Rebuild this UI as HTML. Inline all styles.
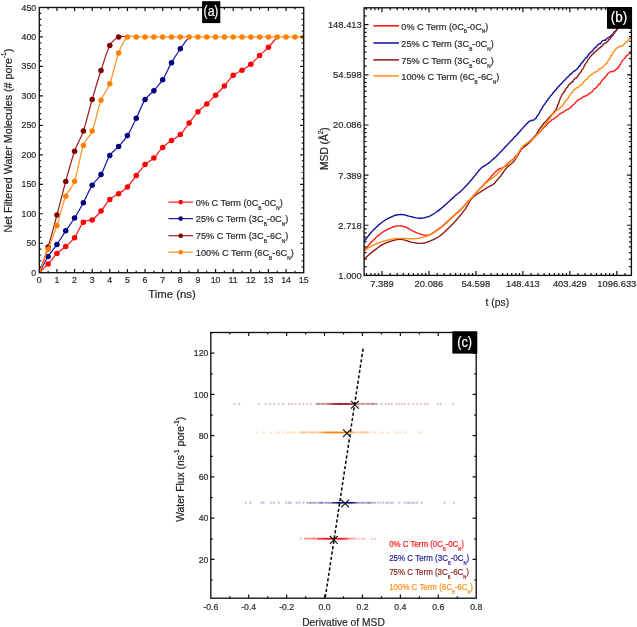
<!DOCTYPE html>
<html><head><meta charset="utf-8"><style>
html,body{margin:0;padding:0;background:#fff;}
body{width:637px;height:627px;overflow:hidden;font-family:"Liberation Sans", sans-serif;}
svg{display:block;will-change:transform;filter:blur(0.3px);}
</style></head><body>
<svg width="637" height="627" viewBox="0 0 637 627" font-family='"Liberation Sans", sans-serif'><defs><clipPath id="ca"><rect x="39.3" y="7.5" width="264.4" height="265.2"/></clipPath>
<clipPath id="cb"><rect x="364.1" y="7.8" width="267.3" height="267.6"/></clipPath>
<clipPath id="cc"><rect x="210.8" y="332.5" width="265.4" height="265.7"/></clipPath></defs>
<g clip-path="url(#ca)">
<path d="M39.3,272.7 C40.77,271.24 45.18,267.1 48.11,263.92 C51.05,260.74 53.99,256.52 56.93,253.61 C59.86,250.69 62.8,249.07 65.74,246.42 C68.68,243.76 71.62,241.71 74.55,237.69 C77.49,233.68 80.43,225.28 83.37,222.31 C86.3,219.35 89.24,221.78 92.18,219.9 C95.12,218.01 98.06,214.41 100.99,211 C103.93,207.58 106.87,202.26 109.81,199.39 C112.74,196.51 115.68,195.8 118.62,193.73 C121.56,191.66 124.5,189.98 127.43,186.95 C130.37,183.93 133.31,179.3 136.25,175.58 C139.18,171.86 142.12,167.53 145.06,164.62 C148,161.7 150.94,160.94 153.87,158.07 C156.81,155.21 159.75,150.32 162.69,147.41 C165.62,144.49 168.56,142.71 171.5,140.57 C174.44,138.43 177.38,137.49 180.31,134.56 C183.25,131.63 186.19,126.8 189.13,123.01 C192.06,119.22 195,114.99 197.94,111.81 C200.88,108.63 203.82,106.69 206.75,103.91 C209.69,101.14 212.63,98.12 215.57,95.13 C218.5,92.15 221.44,89.31 224.38,86 C227.32,82.69 230.26,77.91 233.19,75.27 C236.13,72.64 239.07,72.05 242.01,70.21 C244.94,68.36 247.88,66.66 250.82,64.19 C253.76,61.73 256.7,58.24 259.63,55.41 C262.57,52.58 265.51,50.3 268.45,47.22 C271.38,44.15 275.79,38.68 277.26,36.97" fill="none" stroke="#ff1a1a" stroke-width="1.25"/>
<circle cx="39.3" cy="272.7" r="2.75" fill="#ff0000"/>
<circle cx="48.11" cy="263.92" r="2.75" fill="#ff0000"/>
<circle cx="56.93" cy="253.61" r="2.75" fill="#ff0000"/>
<circle cx="65.74" cy="246.42" r="2.75" fill="#ff0000"/>
<circle cx="74.55" cy="237.69" r="2.75" fill="#ff0000"/>
<circle cx="83.37" cy="222.31" r="2.75" fill="#ff0000"/>
<circle cx="92.18" cy="219.9" r="2.75" fill="#ff0000"/>
<circle cx="100.99" cy="211" r="2.75" fill="#ff0000"/>
<circle cx="109.81" cy="199.39" r="2.75" fill="#ff0000"/>
<circle cx="118.62" cy="193.73" r="2.75" fill="#ff0000"/>
<circle cx="127.43" cy="186.95" r="2.75" fill="#ff0000"/>
<circle cx="136.25" cy="175.58" r="2.75" fill="#ff0000"/>
<circle cx="145.06" cy="164.62" r="2.75" fill="#ff0000"/>
<circle cx="153.87" cy="158.07" r="2.75" fill="#ff0000"/>
<circle cx="162.69" cy="147.41" r="2.75" fill="#ff0000"/>
<circle cx="171.5" cy="140.57" r="2.75" fill="#ff0000"/>
<circle cx="180.31" cy="134.56" r="2.75" fill="#ff0000"/>
<circle cx="189.13" cy="123.01" r="2.75" fill="#ff0000"/>
<circle cx="197.94" cy="111.81" r="2.75" fill="#ff0000"/>
<circle cx="206.75" cy="103.91" r="2.75" fill="#ff0000"/>
<circle cx="215.57" cy="95.13" r="2.75" fill="#ff0000"/>
<circle cx="224.38" cy="86" r="2.75" fill="#ff0000"/>
<circle cx="233.19" cy="75.27" r="2.75" fill="#ff0000"/>
<circle cx="242.01" cy="70.21" r="2.75" fill="#ff0000"/>
<circle cx="250.82" cy="64.19" r="2.75" fill="#ff0000"/>
<circle cx="259.63" cy="55.41" r="2.75" fill="#ff0000"/>
<circle cx="268.45" cy="47.22" r="2.75" fill="#ff0000"/>
<path d="M39.3,272.7 C40.77,270 45.18,261.18 48.11,256.49 C51.05,251.81 53.99,248.86 56.93,244.59 C59.86,240.32 62.8,235.29 65.74,230.86 C68.68,226.43 71.62,222.7 74.55,218.01 C77.49,213.31 80.43,208.17 83.37,202.69 C86.3,197.21 89.24,189.81 92.18,185.13 C95.12,180.44 98.06,179.53 100.99,174.58 C103.93,169.63 106.87,160.09 109.81,155.42 C112.74,150.76 115.68,149.88 118.62,146.58 C121.56,143.28 124.5,140.34 127.43,135.62 C130.37,130.91 133.31,124.3 136.25,118.29 C139.18,112.29 142.12,104.21 145.06,99.61 C148,95.02 150.94,94.03 153.87,90.71 C156.81,87.39 159.75,84.37 162.69,79.69 C165.62,75.02 168.56,67.82 171.5,62.66 C174.44,57.5 177.38,53.04 180.31,48.75 C183.25,44.47 187.66,38.93 189.13,36.97" fill="none" stroke="#1a1aa8" stroke-width="1.25"/>
<circle cx="39.3" cy="272.7" r="2.75" fill="#000080"/>
<circle cx="48.11" cy="256.49" r="2.75" fill="#000080"/>
<circle cx="56.93" cy="244.59" r="2.75" fill="#000080"/>
<circle cx="65.74" cy="230.86" r="2.75" fill="#000080"/>
<circle cx="74.55" cy="218.01" r="2.75" fill="#000080"/>
<circle cx="83.37" cy="202.69" r="2.75" fill="#000080"/>
<circle cx="92.18" cy="185.13" r="2.75" fill="#000080"/>
<circle cx="100.99" cy="174.58" r="2.75" fill="#000080"/>
<circle cx="109.81" cy="155.42" r="2.75" fill="#000080"/>
<circle cx="118.62" cy="146.58" r="2.75" fill="#000080"/>
<circle cx="127.43" cy="135.62" r="2.75" fill="#000080"/>
<circle cx="136.25" cy="118.29" r="2.75" fill="#000080"/>
<circle cx="145.06" cy="99.61" r="2.75" fill="#000080"/>
<circle cx="153.87" cy="90.71" r="2.75" fill="#000080"/>
<circle cx="162.69" cy="79.69" r="2.75" fill="#000080"/>
<circle cx="171.5" cy="62.66" r="2.75" fill="#000080"/>
<circle cx="180.31" cy="48.75" r="2.75" fill="#000080"/>
<path d="M39.3,272.7 C40.77,268.42 45.18,256.6 48.11,247.01 C51.05,237.41 53.99,226.05 56.93,215.12 C59.86,204.19 62.8,192.07 65.74,181.41 C68.68,170.76 71.62,159.57 74.55,151.18 C77.49,142.79 80.43,139.71 83.37,131.08 C86.3,122.46 89.24,109.52 92.18,99.44 C95.12,89.35 98.06,79.55 100.99,70.56 C103.93,61.57 106.87,51.11 109.81,45.51 C112.74,39.91 115.68,38.39 118.62,36.97 C121.56,35.54 125.96,36.97 127.43,36.97" fill="none" stroke="#9a1f1f" stroke-width="1.25"/>
<circle cx="39.3" cy="272.7" r="2.75" fill="#800000"/>
<circle cx="48.11" cy="247.01" r="2.75" fill="#800000"/>
<circle cx="56.93" cy="215.12" r="2.75" fill="#800000"/>
<circle cx="65.74" cy="181.41" r="2.75" fill="#800000"/>
<circle cx="74.55" cy="151.18" r="2.75" fill="#800000"/>
<circle cx="83.37" cy="131.08" r="2.75" fill="#800000"/>
<circle cx="92.18" cy="99.44" r="2.75" fill="#800000"/>
<circle cx="100.99" cy="70.56" r="2.75" fill="#800000"/>
<circle cx="109.81" cy="45.51" r="2.75" fill="#800000"/>
<circle cx="118.62" cy="36.97" r="2.75" fill="#800000"/>
<path d="M39.3,272.7 C40.77,268.77 45.18,256.98 48.11,249.13 C51.05,241.27 53.99,234.37 56.93,225.55 C59.86,216.73 62.8,203.57 65.74,196.2 C68.68,188.84 71.62,189.82 74.55,181.35 C77.49,172.89 80.43,153.78 83.37,145.4 C86.3,137.03 89.24,138.6 92.18,131.08 C95.12,123.57 98.06,108.2 100.99,100.32 C103.93,92.44 106.87,91.71 109.81,83.82 C112.74,75.93 115.68,60.81 118.62,53 C121.56,45.19 124.5,39.64 127.43,36.97 C130.37,34.3 133.31,36.97 136.25,36.97 C139.18,36.97 142.12,36.97 145.06,36.97 C148,36.97 150.94,36.97 153.87,36.97 C156.81,36.97 159.75,36.97 162.69,36.97 C165.62,36.97 168.56,36.97 171.5,36.97 C174.44,36.97 177.38,36.97 180.31,36.97 C183.25,36.97 186.19,36.97 189.13,36.97 C192.06,36.97 195,36.97 197.94,36.97 C200.88,36.97 203.82,36.97 206.75,36.97 C209.69,36.97 212.63,36.97 215.57,36.97 C218.5,36.97 221.44,36.97 224.38,36.97 C227.32,36.97 230.26,36.97 233.19,36.97 C236.13,36.97 239.07,36.97 242.01,36.97 C244.94,36.97 247.88,36.97 250.82,36.97 C253.76,36.97 256.7,36.97 259.63,36.97 C262.57,36.97 265.51,36.97 268.45,36.97 C271.38,36.97 274.32,36.97 277.26,36.97 C280.2,36.97 283.14,36.97 286.07,36.97 C289.01,36.97 291.95,36.97 294.89,36.97 C297.82,36.97 302.23,36.97 303.7,36.97" fill="none" stroke="#ff9426" stroke-width="1.25"/>
<circle cx="39.3" cy="272.7" r="2.75" fill="#ff8000"/>
<circle cx="48.11" cy="249.13" r="2.75" fill="#ff8000"/>
<circle cx="56.93" cy="225.55" r="2.75" fill="#ff8000"/>
<circle cx="65.74" cy="196.2" r="2.75" fill="#ff8000"/>
<circle cx="74.55" cy="181.35" r="2.75" fill="#ff8000"/>
<circle cx="83.37" cy="145.4" r="2.75" fill="#ff8000"/>
<circle cx="92.18" cy="131.08" r="2.75" fill="#ff8000"/>
<circle cx="100.99" cy="100.32" r="2.75" fill="#ff8000"/>
<circle cx="109.81" cy="83.82" r="2.75" fill="#ff8000"/>
<circle cx="118.62" cy="53" r="2.75" fill="#ff8000"/>
<circle cx="127.43" cy="36.97" r="2.75" fill="#ff8000"/>
<circle cx="136.25" cy="36.97" r="2.75" fill="#ff8000"/>
<circle cx="145.06" cy="36.97" r="2.75" fill="#ff8000"/>
<circle cx="153.87" cy="36.97" r="2.75" fill="#ff8000"/>
<circle cx="162.69" cy="36.97" r="2.75" fill="#ff8000"/>
<circle cx="171.5" cy="36.97" r="2.75" fill="#ff8000"/>
<circle cx="180.31" cy="36.97" r="2.75" fill="#ff8000"/>
<circle cx="189.13" cy="36.97" r="2.75" fill="#ff8000"/>
<circle cx="197.94" cy="36.97" r="2.75" fill="#ff8000"/>
<circle cx="206.75" cy="36.97" r="2.75" fill="#ff8000"/>
<circle cx="215.57" cy="36.97" r="2.75" fill="#ff8000"/>
<circle cx="224.38" cy="36.97" r="2.75" fill="#ff8000"/>
<circle cx="233.19" cy="36.97" r="2.75" fill="#ff8000"/>
<circle cx="242.01" cy="36.97" r="2.75" fill="#ff8000"/>
<circle cx="250.82" cy="36.97" r="2.75" fill="#ff8000"/>
<circle cx="259.63" cy="36.97" r="2.75" fill="#ff8000"/>
<circle cx="268.45" cy="36.97" r="2.75" fill="#ff8000"/>
<circle cx="277.26" cy="36.97" r="2.75" fill="#ff8000"/>
<circle cx="286.07" cy="36.97" r="2.75" fill="#ff8000"/>
<circle cx="294.89" cy="36.97" r="2.75" fill="#ff8000"/>
<circle cx="303.7" cy="36.97" r="2.75" fill="#ff8000"/>
</g>
<rect x="39.3" y="7.5" width="264.4" height="265.2" fill="none" stroke="#111" stroke-width="1.35"/>
<path d="M48.11,272.7v-2.0M48.11,7.5v2.0M56.93,272.7v-3.6M56.93,7.5v3.6M65.74,272.7v-2.0M65.74,7.5v2.0M74.55,272.7v-3.6M74.55,7.5v3.6M83.37,272.7v-2.0M83.37,7.5v2.0M92.18,272.7v-3.6M92.18,7.5v3.6M100.99,272.7v-2.0M100.99,7.5v2.0M109.81,272.7v-3.6M109.81,7.5v3.6M118.62,272.7v-2.0M118.62,7.5v2.0M127.43,272.7v-3.6M127.43,7.5v3.6M136.25,272.7v-2.0M136.25,7.5v2.0M145.06,272.7v-3.6M145.06,7.5v3.6M153.87,272.7v-2.0M153.87,7.5v2.0M162.69,272.7v-3.6M162.69,7.5v3.6M171.5,272.7v-2.0M171.5,7.5v2.0M180.31,272.7v-3.6M180.31,7.5v3.6M189.13,272.7v-2.0M189.13,7.5v2.0M197.94,272.7v-3.6M197.94,7.5v3.6M206.75,272.7v-2.0M206.75,7.5v2.0M215.57,272.7v-3.6M215.57,7.5v3.6M224.38,272.7v-2.0M224.38,7.5v2.0M233.19,272.7v-3.6M233.19,7.5v3.6M242.01,272.7v-2.0M242.01,7.5v2.0M250.82,272.7v-3.6M250.82,7.5v3.6M259.63,272.7v-2.0M259.63,7.5v2.0M268.45,272.7v-3.6M268.45,7.5v3.6M277.26,272.7v-2.0M277.26,7.5v2.0M286.07,272.7v-3.6M286.07,7.5v3.6M294.89,272.7v-2.0M294.89,7.5v2.0M39.3,266.81h2.0M303.7,266.81h-2.0M39.3,260.91h2.0M303.7,260.91h-2.0M39.3,255.02h2.0M303.7,255.02h-2.0M39.3,249.13h2.0M303.7,249.13h-2.0M39.3,243.23h3.6M303.7,243.23h-3.6M39.3,237.34h2.0M303.7,237.34h-2.0M39.3,231.45h2.0M303.7,231.45h-2.0M39.3,225.55h2.0M303.7,225.55h-2.0M39.3,219.66h2.0M303.7,219.66h-2.0M39.3,213.77h3.6M303.7,213.77h-3.6M39.3,207.87h2.0M303.7,207.87h-2.0M39.3,201.98h2.0M303.7,201.98h-2.0M39.3,196.09h2.0M303.7,196.09h-2.0M39.3,190.19h2.0M303.7,190.19h-2.0M39.3,184.3h3.6M303.7,184.3h-3.6M39.3,178.41h2.0M303.7,178.41h-2.0M39.3,172.51h2.0M303.7,172.51h-2.0M39.3,166.62h2.0M303.7,166.62h-2.0M39.3,160.73h2.0M303.7,160.73h-2.0M39.3,154.83h3.6M303.7,154.83h-3.6M39.3,148.94h2.0M303.7,148.94h-2.0M39.3,143.05h2.0M303.7,143.05h-2.0M39.3,137.15h2.0M303.7,137.15h-2.0M39.3,131.26h2.0M303.7,131.26h-2.0M39.3,125.37h3.6M303.7,125.37h-3.6M39.3,119.47h2.0M303.7,119.47h-2.0M39.3,113.58h2.0M303.7,113.58h-2.0M39.3,107.69h2.0M303.7,107.69h-2.0M39.3,101.79h2.0M303.7,101.79h-2.0M39.3,95.9h3.6M303.7,95.9h-3.6M39.3,90.01h2.0M303.7,90.01h-2.0M39.3,84.11h2.0M303.7,84.11h-2.0M39.3,78.22h2.0M303.7,78.22h-2.0M39.3,72.33h2.0M303.7,72.33h-2.0M39.3,66.43h3.6M303.7,66.43h-3.6M39.3,60.54h2.0M303.7,60.54h-2.0M39.3,54.65h2.0M303.7,54.65h-2.0M39.3,48.75h2.0M303.7,48.75h-2.0M39.3,42.86h2.0M303.7,42.86h-2.0M39.3,36.97h3.6M303.7,36.97h-3.6M39.3,31.07h2.0M303.7,31.07h-2.0M39.3,25.18h2.0M303.7,25.18h-2.0M39.3,19.29h2.0M303.7,19.29h-2.0M39.3,13.39h2.0M303.7,13.39h-2.0" stroke="#111" stroke-width="1.2" fill="none"/>
<text x="39.3" y="283.4" font-size="8.8" text-anchor="middle" fill="#2a2a2a" stroke="#2a2a2a" stroke-width="0.2">0</text>
<text x="56.93" y="283.4" font-size="8.8" text-anchor="middle" fill="#2a2a2a" stroke="#2a2a2a" stroke-width="0.2">1</text>
<text x="74.55" y="283.4" font-size="8.8" text-anchor="middle" fill="#2a2a2a" stroke="#2a2a2a" stroke-width="0.2">2</text>
<text x="92.18" y="283.4" font-size="8.8" text-anchor="middle" fill="#2a2a2a" stroke="#2a2a2a" stroke-width="0.2">3</text>
<text x="109.81" y="283.4" font-size="8.8" text-anchor="middle" fill="#2a2a2a" stroke="#2a2a2a" stroke-width="0.2">4</text>
<text x="127.43" y="283.4" font-size="8.8" text-anchor="middle" fill="#2a2a2a" stroke="#2a2a2a" stroke-width="0.2">5</text>
<text x="145.06" y="283.4" font-size="8.8" text-anchor="middle" fill="#2a2a2a" stroke="#2a2a2a" stroke-width="0.2">6</text>
<text x="162.69" y="283.4" font-size="8.8" text-anchor="middle" fill="#2a2a2a" stroke="#2a2a2a" stroke-width="0.2">7</text>
<text x="180.31" y="283.4" font-size="8.8" text-anchor="middle" fill="#2a2a2a" stroke="#2a2a2a" stroke-width="0.2">8</text>
<text x="197.94" y="283.4" font-size="8.8" text-anchor="middle" fill="#2a2a2a" stroke="#2a2a2a" stroke-width="0.2">9</text>
<text x="215.57" y="283.4" font-size="8.8" text-anchor="middle" fill="#2a2a2a" stroke="#2a2a2a" stroke-width="0.2">10</text>
<text x="233.19" y="283.4" font-size="8.8" text-anchor="middle" fill="#2a2a2a" stroke="#2a2a2a" stroke-width="0.2">11</text>
<text x="250.82" y="283.4" font-size="8.8" text-anchor="middle" fill="#2a2a2a" stroke="#2a2a2a" stroke-width="0.2">12</text>
<text x="268.45" y="283.4" font-size="8.8" text-anchor="middle" fill="#2a2a2a" stroke="#2a2a2a" stroke-width="0.2">13</text>
<text x="286.07" y="283.4" font-size="8.8" text-anchor="middle" fill="#2a2a2a" stroke="#2a2a2a" stroke-width="0.2">14</text>
<text x="303.7" y="283.4" font-size="8.8" text-anchor="middle" fill="#2a2a2a" stroke="#2a2a2a" stroke-width="0.2">15</text>
<text x="36.2" y="275.7" font-size="8.8" text-anchor="end" fill="#2a2a2a" stroke="#2a2a2a" stroke-width="0.2">0</text>
<text x="36.2" y="246.23" font-size="8.8" text-anchor="end" fill="#2a2a2a" stroke="#2a2a2a" stroke-width="0.2">50</text>
<text x="36.2" y="216.77" font-size="8.8" text-anchor="end" fill="#2a2a2a" stroke="#2a2a2a" stroke-width="0.2">100</text>
<text x="36.2" y="187.3" font-size="8.8" text-anchor="end" fill="#2a2a2a" stroke="#2a2a2a" stroke-width="0.2">150</text>
<text x="36.2" y="157.83" font-size="8.8" text-anchor="end" fill="#2a2a2a" stroke="#2a2a2a" stroke-width="0.2">200</text>
<text x="36.2" y="128.37" font-size="8.8" text-anchor="end" fill="#2a2a2a" stroke="#2a2a2a" stroke-width="0.2">250</text>
<text x="36.2" y="98.9" font-size="8.8" text-anchor="end" fill="#2a2a2a" stroke="#2a2a2a" stroke-width="0.2">300</text>
<text x="36.2" y="69.43" font-size="8.8" text-anchor="end" fill="#2a2a2a" stroke="#2a2a2a" stroke-width="0.2">350</text>
<text x="36.2" y="39.97" font-size="8.8" text-anchor="end" fill="#2a2a2a" stroke="#2a2a2a" stroke-width="0.2">400</text>
<text x="36.2" y="10.5" font-size="8.8" text-anchor="end" fill="#2a2a2a" stroke="#2a2a2a" stroke-width="0.2">450</text>
<text transform="translate(12.4,140.6) rotate(-90)" font-size="10.4" text-anchor="middle" fill="#222" stroke="#222" stroke-width="0.2" textLength="184" lengthAdjust="spacingAndGlyphs">Net Filtered Water Molecules (# pore<tspan dy="-6" font-size="6.5">-1</tspan><tspan dy="6">)</tspan></text>
<text x="172" y="297.6" font-size="10.4" text-anchor="middle" fill="#2a2a2a" stroke="#2a2a2a" stroke-width="0.2" textLength="47.6" lengthAdjust="spacingAndGlyphs">Time (ns)</text>
<rect x="202.1" y="1.2" width="18.2" height="21.9" fill="#000"/>
<text x="211" y="16" font-size="14.8" text-anchor="middle" fill="#fff" stroke="#fff" stroke-width="0.2" textLength="14.8" lengthAdjust="spacingAndGlyphs">(a)</text>
<path d="M168.4,202.1H193" stroke="#ff1a1a" stroke-width="1.2"/>
<circle cx="180.7" cy="202.1" r="2.3" fill="#ff0000"/>
<text x="195.8" y="205.8" font-size="9.5" fill="#2a2a2a" stroke="#2a2a2a" stroke-width="0.2" textLength="87" lengthAdjust="spacingAndGlyphs">0% C Term (0C<tspan dy="3.99" font-size="4.94">B</tspan><tspan dy="-3.99">-0C</tspan><tspan dy="3.99" font-size="4.94">N</tspan><tspan dy="-3.99">)</tspan></text>
<path d="M168.4,218.6H193" stroke="#1a1aa8" stroke-width="1.2"/>
<circle cx="180.7" cy="218.6" r="2.3" fill="#000080"/>
<text x="195.8" y="222.3" font-size="9.5" fill="#2a2a2a" stroke="#2a2a2a" stroke-width="0.2" textLength="92.4" lengthAdjust="spacingAndGlyphs">25% C Term (3C<tspan dy="3.99" font-size="4.94">B</tspan><tspan dy="-3.99">-0C</tspan><tspan dy="3.99" font-size="4.94">N</tspan><tspan dy="-3.99">)</tspan></text>
<path d="M168.4,235.7H193" stroke="#9a1f1f" stroke-width="1.2"/>
<circle cx="180.7" cy="235.7" r="2.3" fill="#800000"/>
<text x="195.8" y="239.4" font-size="9.5" fill="#2a2a2a" stroke="#2a2a2a" stroke-width="0.2" textLength="92.4" lengthAdjust="spacingAndGlyphs">75% C Term (3C<tspan dy="3.99" font-size="4.94">B</tspan><tspan dy="-3.99">-6C</tspan><tspan dy="3.99" font-size="4.94">N</tspan><tspan dy="-3.99">)</tspan></text>
<path d="M168.4,252.2H193" stroke="#ff9426" stroke-width="1.2"/>
<circle cx="180.7" cy="252.2" r="2.3" fill="#ff8000"/>
<text x="195.8" y="255.9" font-size="9.5" fill="#2a2a2a" stroke="#2a2a2a" stroke-width="0.2" textLength="98" lengthAdjust="spacingAndGlyphs">100% C Term (6C<tspan dy="3.99" font-size="4.94">B</tspan><tspan dy="-3.99">-6C</tspan><tspan dy="3.99" font-size="4.94">N</tspan><tspan dy="-3.99">)</tspan></text>
<g clip-path="url(#cb)" fill="none" stroke-width="1.4">
<path d="M364.1,250.8 L364.58,250.21 L365.2,249.45 L365.92,248.55 L366.73,247.54 L367.61,246.45 L368.54,245.32 L369.5,244.18 L370.48,243.05 L371.45,241.98 L372.4,241 L373.26,240.15 L374.15,239.29 L375.06,238.43 L375.99,237.57 L376.94,236.73 L377.9,235.9 L378.86,235.09 L379.83,234.31 L380.79,233.57 L381.75,232.86 L382.7,232.2 L383.87,231.44 L385.07,230.72 L386.29,230.05 L387.51,229.42 L388.72,228.83 L389.9,228.3 L391.03,227.81 L392.1,227.38 L393.1,227 L394.69,226.47 L396.08,226.14 L397.36,225.95 L398.6,225.88 L399.9,225.9 L401.27,226.02 L402.65,226.27 L404.02,226.62 L405.34,227.04 L406.6,227.5 L407.72,228.02 L408.72,228.62 L409.71,229.27 L410.77,229.94 L412,230.6 L413.02,231.09 L414.13,231.61 L415.31,232.15 L416.52,232.68 L417.74,233.18 L418.95,233.63 L420.1,234 L421.42,234.37 L422.74,234.71 L424.04,234.98 L425.32,235.17 L426.54,235.25 L427.7,235.2 L428.92,234.97 L429.99,234.59 L431.02,234.06 L432.15,233.36 L433.5,232.5 L434.37,231.95 L435.3,231.33 L436.28,230.66 L437.31,229.94 L438.36,229.18 L439.44,228.37 L440.53,227.54 L441.62,226.69 L442.7,225.8 L443.59,225.03 L444.51,224.23 L445.46,223.37 L446.4,222.54 L447.36,221.6 L448.31,220.69 L449.26,219.86 L450.2,218.96 L451.09,218.07 L451.96,217.29 L452.8,216.53 L453.87,215.5 L454.9,214.7 L455.86,213.85 L456.79,213.04 L457.68,212.21 L458.62,211.3 L459.57,210.44 L460.59,209.53 L461.46,208.65 L462.31,207.87 L463.18,206.86 L464.01,205.9 L464.89,204.94 L465.81,204.11 L466.73,203.03 L467.64,202.1 L468.53,201.06 L469.53,200.07 L470.32,199.13 L471.1,198.31 L471.96,197.39 L472.86,196.36 L473.68,195.56 L474.57,194.4 L475.38,193.45 L476.31,192.69 L477.1,191.77 L478.02,190.81 L478.78,189.88 L479.57,188.85 L480.58,188.04 L481.46,187.16 L482.35,186.19 L483.28,185.03 L484.1,184.13 L484.97,183.32 L485.84,182.35 L486.7,181.61 L487.6,180.52 L488.51,179.75 L489.39,178.79 L490.32,177.62 L491.24,176.37 L492.16,175.38 L493.03,174.59 L493.96,173.45 L494.92,172.52 L495.74,171.61 L496.61,170.93 L497.35,170.13 L498.61,169.11 L499.83,168.63 L500.9,168.33 L502.01,167.81 L503.03,167.41 L504.1,166.9 L505.05,166.15 L506.01,165.63 L507,164.82 L508,163.67 L508.9,163.19 L509.9,161.88 L510.74,161.17 L511.7,160.15 L512.7,159.46 L513.84,158.64 L514.72,157.56 L515.77,156.23 L516.73,155.75 L517.45,154.78 L518.35,153.35 L519.24,152.39 L519.79,150.96 L520.55,149.75 L521.19,148.66 L522.04,147.49 L522.96,146.76 L523.82,145.84 L524.93,145.19 L525.84,144.71 L527.06,143.82 L527.83,142.55 L528.72,142.11 L529.71,140.84 L530.73,140.52 L531.89,139.09 L532.92,138.51 L533.79,137.64 L534.5,136.41 L535.5,135.89 L536.25,135.46 L537.3,134.51 L538.1,133.68 L539.04,132.81 L540.06,131.52 L541.01,131.11 L541.84,129.6 L542.79,128.82 L543.56,127.86 L544.42,126.99 L545.35,126.16 L546.33,125.23 L547.15,124.22 L548,123.18 L548.87,122.29 L549.92,121.88 L550.72,120.98 L551.89,119.83 L552.86,119.3 L553.8,118.86 L554.82,117.78 L555.95,117.44 L556.91,116.54 L558.05,115.62 L559,114.63 L559.9,113.72 L560.88,113.63 L562.1,112.3 L563.18,112.26 L564.51,111.45 L565.42,110.41 L566.5,109.99 L567.55,109.31 L568.69,109.1 L570.05,107.85 L570.76,107.53 L571.73,106.07 L572.6,105.22 L573.72,104.43 L574.62,103.51 L575.54,102.32 L576.55,101.55 L577.51,100.26 L578.57,99.66 L579.63,99.23 L580.75,98.64 L581.8,98.24 L582.74,97.03 L584,96.28 L584.96,96.3 L585.78,95.97 L587.12,95.14 L588.12,94.71 L588.97,93.63 L590.06,93.26 L591.12,92.49 L592.01,91.77 L593,90.7 L593.8,89.03 L594.73,88.54 L595.68,88.2 L596.81,87.01 L597.79,86.11 L598.7,84.28 L599.61,84.34 L600.31,83.14 L601.18,81.56 L602.02,80.77 L602.58,79.74 L603.64,78.63 L604.45,78.6 L605.15,76.84 L605.92,76.29 L606.81,75.33 L607.52,73.83 L608.06,73.37 L609.52,72.55 L610.62,71.58 L611.55,71.54 L612.92,71.8 L614.03,70.86 L615.08,70.53 L616.19,69.17 L617.09,68.52 L617.84,68.68 L618.16,67.03 L619.21,66.7 L619.77,64.61 L620.39,64.44 L621.11,62.79 L621.81,61.6 L622.89,59.97 L623.58,59.52 L624.37,58.9 L625.07,58.14 L626.26,55.83 L627.18,55.51 L628.52,54.27 L629.49,53.43 L630.61,53.35 L631.39,52.49 L632.56,50.91 L633.19,51.32" stroke="#ff1a1a" stroke-linejoin="round"/>
<path d="M364.1,241.5 L364.54,240.94 L365.08,240.23 L365.71,239.38 L366.42,238.44 L367.2,237.41 L368.02,236.34 L368.89,235.24 L369.77,234.14 L370.66,233.06 L371.54,232.04 L372.4,231.1 L373.26,230.2 L374.15,229.29 L375.06,228.39 L375.99,227.49 L376.94,226.6 L377.9,225.72 L378.86,224.87 L379.83,224.05 L380.79,223.26 L381.75,222.51 L382.7,221.8 L383.86,220.99 L385.04,220.21 L386.24,219.48 L387.43,218.79 L388.62,218.15 L389.79,217.56 L390.93,217.02 L392.04,216.53 L393.1,216.1 L394.39,215.63 L395.61,215.24 L396.78,214.94 L397.93,214.73 L399.06,214.58 L400.21,214.51 L401.4,214.5 L402.61,214.59 L403.82,214.79 L405.03,215.07 L406.26,215.4 L407.51,215.76 L408.79,216.1 L410.1,216.4 L411.29,216.67 L412.51,216.98 L413.75,217.31 L415.01,217.63 L416.29,217.91 L417.56,218.13 L418.84,218.27 L420.1,218.3 L421.37,218.22 L422.65,218.06 L423.94,217.83 L425.23,217.53 L426.5,217.17 L427.76,216.75 L429,216.3 L430.2,215.8 L431.36,215.25 L432.49,214.64 L433.6,213.98 L434.68,213.26 L435.76,212.51 L436.83,211.73 L437.91,210.92 L439,210.1 L439.98,209.34 L440.98,208.55 L441.98,207.7 L442.98,206.86 L443.98,205.98 L444.97,205.13 L445.93,204.25 L446.89,203.41 L447.81,202.58 L448.81,201.71 L449.8,200.82 L450.79,199.85 L451.74,198.97 L452.68,198.14 L453.57,197.24 L454.45,196.51 L455.29,195.65 L456.34,194.78 L457.37,194.04 L458.3,193.32 L459.22,192.5 L460.08,191.86 L461.01,190.92 L461.87,190.19 L462.67,189.41 L463.45,188.58 L464.28,187.8 L465.22,186.82 L466.23,185.74 L466.95,185.03 L467.8,184.03 L468.62,183.05 L469.54,182.12 L470.44,180.93 L471.41,179.77 L472.28,178.91 L473.19,177.67 L473.96,176.68 L474.92,175.64 L475.77,174.7 L476.58,173.4 L477.46,172.4 L478.21,171.37 L479.03,170.22 L479.82,169.43 L480.74,168.54 L481.86,167.39 L482.91,166.75 L484.1,166.24 L485.15,165.35 L486.28,164.77 L487.45,163.88 L488.38,163.37 L489.32,162.65 L490.23,161.72 L491.13,160.96 L492.14,160.02 L493.05,159.43 L494.07,158.21 L494.86,157.65 L495.75,157.02 L496.7,156.17 L497.5,154.88 L498.37,154.17 L499.34,153.24 L500.15,152.32 L501.08,151.55 L501.94,150.77 L502.83,149.47 L503.71,148.65 L504.5,147.8 L505.36,146.81 L506.12,145.92 L506.99,145.3 L508,143.99 L508.98,143.27 L509.73,142.08 L510.54,141.51 L511.35,140.36 L512.08,139.91 L512.97,139.09 L513.68,137.84 L514.54,136.87 L515.56,136.19 L516.42,135.14 L517.27,134.28 L518.01,133.57 L518.98,132.25 L519.77,131.66 L520.57,130.53 L521.45,129.43 L522.37,128.67 L523.35,127.4 L524.12,126.47 L525.14,125.4 L525.93,124.47 L526.87,123.82 L527.53,122.69 L528.36,122.27 L529.13,121.31 L530.51,120.8 L531.79,120.17 L532.9,120.49 L534.08,119.75 L535.47,118.44 L536.19,118.14 L536.71,116.67 L537.46,115.69 L537.98,115.16 L538.78,113.95 L539.49,112.81 L540.22,111.01 L540.83,110.08 L541.7,109.14 L542.28,107.71 L543.04,106.47 L543.66,105.21 L544.41,104.75 L545.12,103.21 L546.07,102.5 L546.68,100.74 L547.62,100.44 L548.25,98.67 L549.1,98 L549.84,97.24 L550.59,95.88 L551.36,94.96 L552.07,94.51 L552.95,92.99 L553.57,92.24 L554.45,91.28 L555.15,90.21 L556.13,89.85 L556.76,88.61 L557.78,87.18 L558.64,86.33 L559.39,85.82 L560.22,84.69 L560.98,84.08 L561.86,83.21 L562.75,82.08 L563.51,81.36 L564.52,80.11 L565.48,79.77 L566.27,78.31 L567.16,77.36 L567.96,76.81 L568.85,75.94 L569.9,74.63 L570.79,73.85 L571.67,73.78 L572.45,72.24 L573.31,71.8 L574.32,70.76 L575.17,70.87 L576.01,69.85 L576.73,69.18 L577.74,68.25 L578.8,66.44 L579.7,66.27 L580.21,64.79 L581.2,63.67 L582.02,62.86 L582.77,61.73 L583.46,61.6 L584.15,59.83 L585.06,58.86 L585.7,57.66 L586.55,57.5 L587.54,56.43 L588.17,55.31 L588.96,54.04 L589.95,52.91 L590.83,52.27 L591.67,51.67 L592.46,50.82 L593.62,49.14 L594.66,48.03 L595.71,47.49 L596.45,46.83 L597.44,45.23 L598.5,44.24 L599.45,43.7 L600.28,43.87 L601.11,42.76 L601.83,41.26 L603.02,40.51 L604.44,40.16 L605.52,40.18 L606.44,38.79 L607.69,37.97 L608.5,37.75 L609.64,36.91 L610.58,36.41 L611.62,35 L612.54,34.41 L613.24,34.03 L614.19,31.91 L615.02,31.54 L616.23,30.69 L616.9,28.95 L617.59,28.5 L618.66,27.15 L619.5,26.36 L620.42,25.85 L620.9,25.19 L621.59,23.75 L622.53,22.42 L623.17,22.29 L623.96,21.02 L625.19,19.48 L625.67,19.25 L626.68,18.31 L627.73,16.59 L628.44,15.72 L629.25,15.56 L630.47,14.31 L630.94,13.58 L632.01,12.18 L632.63,11.47 L632.87,10.4" stroke="#10109a" stroke-linejoin="round"/>
<path d="M364.1,259.1 L364.65,258.62 L365.35,257.99 L366.18,257.24 L367.11,256.4 L368.12,255.5 L369.18,254.57 L370.26,253.64 L371.34,252.74 L372.4,251.9 L373.35,251.16 L374.33,250.4 L375.34,249.62 L376.37,248.83 L377.42,248.06 L378.48,247.29 L379.54,246.56 L380.6,245.86 L381.66,245.2 L382.7,244.6 L383.86,243.99 L385.04,243.42 L386.24,242.89 L387.43,242.39 L388.62,241.94 L389.79,241.53 L390.93,241.15 L392.04,240.81 L393.1,240.5 L394.59,240.1 L395.96,239.77 L397.28,239.52 L398.59,239.37 L399.95,239.33 L401.4,239.4 L402.57,239.57 L403.79,239.84 L405.04,240.2 L406.32,240.6 L407.6,241.02 L408.86,241.43 L410.1,241.8 L411.3,242.1 L412.61,242.39 L413.89,242.67 L415.15,242.92 L416.39,243.14 L417.62,243.3 L418.85,243.39 L420.1,243.4 L421.35,243.32 L422.58,243.18 L423.8,242.97 L425.04,242.7 L426.29,242.36 L427.57,241.96 L428.9,241.5 L429.97,241.1 L431.06,240.67 L432.17,240.2 L433.31,239.7 L434.45,239.15 L435.59,238.56 L436.74,237.93 L437.88,237.24 L439,236.5 L439.92,235.85 L440.84,235.14 L441.77,234.39 L442.7,233.61 L443.62,232.8 L444.54,231.95 L445.46,231.12 L446.37,230.25 L447.25,229.38 L448.13,228.56 L449,227.72 L449.93,226.78 L450.86,225.87 L451.76,224.92 L452.68,223.96 L453.54,223.02 L454.43,222.14 L455.27,221.1 L456.13,220.17 L456.97,219.2 L457.79,218.26 L458.64,217.39 L459.4,216.49 L460.19,215.46 L461.01,214.59 L461.77,213.59 L462.5,212.68 L463.23,211.65 L463.98,210.66 L464.69,209.84 L465.41,208.8 L466.16,207.67 L466.83,206.52 L467.53,205.35 L468.23,204.07 L468.87,202.95 L469.52,201.66 L470.23,200.7 L470.96,199.61 L471.73,198.64 L472.62,197.63 L473.52,196.81 L474.47,195.97 L475.51,195.32 L476.51,194.5 L477.51,193.88 L478.56,193.18 L479.62,192.63 L480.66,191.81 L481.86,190.98 L483.01,190.43 L484.15,189.55 L485.32,188.92 L486.53,188.14 L487.49,187.52 L488.5,186.98 L489.82,186.2 L490.96,185.6 L491.93,185.25 L492.93,184.5 L494.09,183.61 L494.84,182.95 L495.7,181.66 L496.55,180.85 L497.38,179.84 L498.31,178.91 L499.16,177.64 L499.97,176.82 L500.86,175.71 L501.5,174.86 L502.24,173.56 L502.88,172.82 L503.65,171.73 L504.26,170.7 L504.91,169.93 L505.63,168.84 L506.45,168.07 L507.31,166.88 L508.31,165.97 L509.37,165.32 L510.39,164.53 L511.3,163.78 L512.24,162.96 L513.01,162.43 L513.93,161.1 L514.7,160.14 L515.42,159.1 L516.14,157.79 L516.87,156.94 L517.42,155.8 L518.24,154.7 L518.68,153.69 L519.36,152.15 L519.92,151.66 L520.9,150.05 L521.92,148.67 L522.65,148.37 L523.47,147.21 L524.45,146.86 L525.24,146.13 L526.32,145.23 L527.34,144.47 L528.39,143.58 L529.28,142.6 L530.34,141.76 L531.27,140.97 L532.19,139.62 L532.94,138.64 L533.82,137.57 L534.58,136.6 L535.31,135.8 L536.02,134.99 L536.57,133.89 L537.32,132.58 L538.01,131.72 L538.58,130.33 L539.37,129.02 L539.95,128.46 L540.49,127.49 L541.5,126.64 L542.27,125.64 L543.17,124.23 L544.12,122.89 L544.93,122.42 L545.7,121.68 L546.56,120.41 L547.45,119.71 L548.23,118.44 L549.14,117.57 L550.13,116.4 L551.02,115.56 L551.82,114.51 L552.7,114.18 L553.6,113.04 L554.34,111.59 L555.11,110.74 L555.94,109.76 L556.32,108.68 L557.05,107.44 L557.28,106.09 L557.69,104.82 L558.36,104.01 L558.69,102.97 L559.17,101.59 L559.52,100.4 L560,99.18 L560.5,97.65 L561.05,96.76 L561.69,95.3 L562.18,94.1 L563.06,93.81 L563.76,92.13 L564.57,91.41 L565.25,89.79 L565.92,88.88 L566.66,87.87 L567.47,87.42 L567.95,86.17 L568.56,84.91 L569.79,84.17 L570.7,83.12 L571.22,82.32 L572.17,82.22 L573.09,81.03 L573.77,79.78 L574.59,79.14 L575.14,78.25 L575.8,78.29 L576.58,77.83 L577.4,76.8 L578.37,74.69 L579.67,73.42 L580.19,72.6 L580.51,72.41 L581.31,71.58 L581.92,69.72 L582.52,69.38 L583.11,68.54 L583.7,67.45 L584.54,65.22 L584.99,64.78 L585.97,62.96 L586.5,62.56 L587.15,61.58 L587.96,59.55 L588.62,59.09 L589.34,58.21 L589.91,57.41 L590.65,56.37 L591.69,54.98 L592.56,54.36 L593.73,53.37 L594.57,51.83 L595.36,51.78 L596.58,50.75 L597.4,49.67 L598.59,49.17 L599.37,47.76 L600.2,47.75 L601.03,46.76 L601.94,46.31 L603.16,44.5 L603.91,43.56 L605.07,43.15 L606.17,42.76 L606.79,41.9 L608.02,41.12 L608.86,39.42 L609.94,39.11 L610.67,38.35 L611.34,36.25 L612.24,36.19 L612.91,35.07 L614.02,33.27 L614.7,32.78 L615.44,31.04 L616.15,30.71 L617.15,29.25 L617.63,28.73 L618.75,26.84 L619.47,26.72 L620.39,25.14 L621,24.2 L621.66,22.61 L622.43,22.33 L623.3,21.12 L624.13,20.04 L624.85,18.33 L626.02,17.86 L626.5,17.23 L627.72,15.49 L628.57,14.72 L629.46,13.2 L630.13,13.67 L631.33,12.01 L631.93,10.86 L632.65,10.42 L633.2,10.41" stroke="#8b1a1a" stroke-linejoin="round"/>
<path d="M364.1,250.8 L364.73,250.39 L365.54,249.84 L366.52,249.18 L367.61,248.46 L368.78,247.7 L369.99,246.94 L371.21,246.23 L372.4,245.6 L373.46,245.09 L374.55,244.59 L375.68,244.1 L376.84,243.62 L378.01,243.16 L379.19,242.71 L380.37,242.29 L381.54,241.88 L382.7,241.5 L384.01,241.09 L385.34,240.7 L386.68,240.32 L388.02,239.97 L389.35,239.66 L390.65,239.37 L391.9,239.11 L393.1,238.9 L394.56,238.69 L395.87,238.55 L397.13,238.47 L398.41,238.43 L399.8,238.41 L401.4,238.4 L402.48,238.41 L403.65,238.44 L404.89,238.49 L406.18,238.55 L407.49,238.62 L408.81,238.68 L410.12,238.72 L411.4,238.75 L412.63,238.74 L413.8,238.7 L415.18,238.61 L416.52,238.49 L417.81,238.34 L419.07,238.16 L420.31,237.94 L421.52,237.7 L422.72,237.42 L423.9,237.1 L425.21,236.7 L426.47,236.27 L427.7,235.79 L428.91,235.26 L430.14,234.68 L431.39,234.02 L432.7,233.3 L433.65,232.75 L434.62,232.16 L435.61,231.54 L436.61,230.88 L437.62,230.2 L438.64,229.49 L439.65,228.75 L440.67,227.99 L441.69,227.2 L442.7,226.39 L443.62,225.63 L444.56,224.8 L445.51,223.96 L446.47,223.07 L447.41,222.14 L448.36,221.25 L449.3,220.31 L450.22,219.44 L451.11,218.63 L451.97,217.73 L452.81,217 L453.89,216 L454.87,215.18 L455.84,214.28 L456.77,213.53 L457.67,212.72 L458.62,211.89 L459.57,211.02 L460.62,210.06 L461.43,209.18 L462.28,208.3 L463.13,207.4 L464.05,206.39 L464.91,205.42 L465.8,204.32 L466.74,203.35 L467.6,202.29 L468.54,201.41 L469.47,200.21 L470.32,199.34 L471.09,198.51 L471.97,197.55 L472.84,196.47 L473.71,195.66 L474.51,194.52 L475.42,193.64 L476.26,192.57 L477.12,191.63 L477.98,190.93 L478.76,189.96 L479.62,189 L480.58,188.27 L481.5,187.14 L482.5,186.24 L483.39,185.47 L484.36,184.39 L485.21,183.54 L486.1,182.98 L486.98,182.2 L487.78,181.48 L488.45,180.71 L489.85,179.87 L490.84,178.97 L491.88,178.37 L492.9,177.58 L494.09,176.8 L494.82,175.94 L495.79,175.41 L496.68,174.47 L497.58,173.65 L498.52,172.31 L499.4,171.47 L500.3,170.55 L501.12,170 L501.92,168.88 L502.94,167.91 L503.92,166.86 L504.67,166.13 L505.49,165.23 L506.54,164.31 L507.46,163.38 L508.52,162.45 L509.57,161.72 L510.77,161.17 L511.96,160.35 L513.1,159.75 L514.34,158.93 L515.31,157.99 L516.06,157.04 L516.88,155.82 L517.65,154.56 L518.3,153.17 L518.95,152.1 L519.63,150.96 L520.19,149.74 L520.97,148.73 L521.76,147.74 L522.42,147.18 L523.11,146.3 L523.89,145.1 L525.07,144.46 L525.71,143.82 L526.66,143.48 L527.54,142.56 L528.72,142.31 L529.59,141.37 L530.72,140.87 L531.89,140.14 L533.07,138.91 L533.83,138.34 L534.63,137.34 L535.46,136.66 L536.33,135.31 L537.18,134.27 L538.02,133.74 L538.84,133.03 L539.74,131.57 L540.67,130.89 L541.5,129.43 L542.33,128.43 L543.25,127.23 L543.91,126.5 L544.65,125.32 L545.5,124.72 L546.19,123.31 L546.87,122.11 L547.62,121.24 L548.48,119.73 L549.32,118.85 L550.04,118.24 L550.8,116.66 L551.37,116.3 L551.95,114.62 L552.77,114.17 L553.51,113.64 L554.48,112.71 L555.48,111.38 L556.47,110.52 L557.3,110.07 L558.19,109.78 L559.18,108.73 L559.93,107.83 L560.97,107.06 L561.74,106.55 L562.59,105.29 L563.19,104.47 L564.11,103.2 L564.73,102.64 L565.38,101.11 L566.36,100.59 L566.96,98.86 L567.78,98.47 L568.44,97.85 L569.12,96.42 L569.87,95.03 L570.9,94.03 L571.69,92.55 L572.67,91.9 L573.4,91.32 L574.28,89.41 L574.97,89.41 L576.03,88.45 L576.82,87.66 L578.14,87.48 L579.66,85.87 L580.3,85.62 L580.99,84.98 L581.93,84.52 L582.84,82.95 L583.63,81.68 L584.83,80.61 L585.6,79.66 L586.76,79.38 L587.81,78.36 L588.61,76.46 L589.85,75.92 L590.78,75.13 L591.61,74.18 L592.65,74.15 L593.91,72.7 L594.95,72 L595.9,71.9 L597.17,71.29 L598.16,70.19 L599.1,68.79 L600.32,69.15 L600.99,68.56 L602.02,67.15 L603.08,67.05 L604.01,66.21 L604.75,64.7 L605.72,63.69 L606.34,63.69 L607.25,62.58 L608.1,60.57 L608.75,59.76 L609.62,58.96 L610.11,57.71 L610.75,56.99 L611.37,55.44 L611.94,55.34 L612.72,53.42 L613.34,52.37 L614.05,50.98 L614.92,50.42 L615.38,50.05 L616.03,48.68 L617.5,47.44 L618.51,47.65 L619.85,46.08 L620.83,46.37 L621.99,46.21 L623.02,45.65 L624.2,43.9 L625.19,42.9 L626.3,42.14 L627.34,41.62 L628.03,40.11 L629,39.09 L629.93,38.08 L630.51,37.96 L631.9,36.98 L633.14,35.86 L634.03,34.71" stroke="#ff8c10" stroke-linejoin="round"/>
</g>
<rect x="364.1" y="7.8" width="267.29999999999995" height="267.59999999999997" fill="none" stroke="#111" stroke-width="1.35"/>
<path d="M366.51,275.4v-2.5M366.51,7.8v2.5M370.89,275.4v-2.5M370.89,7.8v2.5M374.89,275.4v-2.5M374.89,7.8v2.5M378.58,275.4v-2.5M378.58,7.8v2.5M382,275.4v-4.4M382,7.8v4.4M390.21,275.4v-2.5M390.21,7.8v2.5M397.19,275.4v-2.5M397.19,7.8v2.5M403.27,275.4v-2.5M403.27,7.8v2.5M408.65,275.4v-2.5M408.65,7.8v2.5M413.47,275.4v-2.5M413.47,7.8v2.5M417.85,275.4v-2.5M417.85,7.8v2.5M421.85,275.4v-2.5M421.85,7.8v2.5M425.54,275.4v-2.5M425.54,7.8v2.5M428.96,275.4v-4.4M428.96,7.8v4.4M437.17,275.4v-2.5M437.17,7.8v2.5M444.15,275.4v-2.5M444.15,7.8v2.5M450.23,275.4v-2.5M450.23,7.8v2.5M455.61,275.4v-2.5M455.61,7.8v2.5M460.43,275.4v-2.5M460.43,7.8v2.5M464.81,275.4v-2.5M464.81,7.8v2.5M468.81,275.4v-2.5M468.81,7.8v2.5M472.5,275.4v-2.5M472.5,7.8v2.5M475.92,275.4v-4.4M475.92,7.8v4.4M484.13,275.4v-2.5M484.13,7.8v2.5M491.11,275.4v-2.5M491.11,7.8v2.5M497.19,275.4v-2.5M497.19,7.8v2.5M502.57,275.4v-2.5M502.57,7.8v2.5M507.39,275.4v-2.5M507.39,7.8v2.5M511.77,275.4v-2.5M511.77,7.8v2.5M515.77,275.4v-2.5M515.77,7.8v2.5M519.46,275.4v-2.5M519.46,7.8v2.5M522.88,275.4v-4.4M522.88,7.8v4.4M531.09,275.4v-2.5M531.09,7.8v2.5M538.07,275.4v-2.5M538.07,7.8v2.5M544.15,275.4v-2.5M544.15,7.8v2.5M549.53,275.4v-2.5M549.53,7.8v2.5M554.35,275.4v-2.5M554.35,7.8v2.5M558.73,275.4v-2.5M558.73,7.8v2.5M562.73,275.4v-2.5M562.73,7.8v2.5M566.42,275.4v-2.5M566.42,7.8v2.5M569.84,275.4v-4.4M569.84,7.8v4.4M578.05,275.4v-2.5M578.05,7.8v2.5M585.03,275.4v-2.5M585.03,7.8v2.5M591.11,275.4v-2.5M591.11,7.8v2.5M596.49,275.4v-2.5M596.49,7.8v2.5M601.31,275.4v-2.5M601.31,7.8v2.5M605.69,275.4v-2.5M605.69,7.8v2.5M609.69,275.4v-2.5M609.69,7.8v2.5M613.38,275.4v-2.5M613.38,7.8v2.5M616.8,275.4v-4.4M616.8,7.8v4.4M625.01,275.4v-2.5M625.01,7.8v2.5M364.1,266.64h2.5M631.4,266.64h-2.5M364.1,259.18h2.5M631.4,259.18h-2.5M364.1,252.69h2.5M631.4,252.69h-2.5M364.1,246.95h2.5M631.4,246.95h-2.5M364.1,241.8h2.5M631.4,241.8h-2.5M364.1,237.12h2.5M631.4,237.12h-2.5M364.1,232.85h2.5M631.4,232.85h-2.5M364.1,228.91h2.5M631.4,228.91h-2.5M364.1,225.26h4.4M631.4,225.26h-4.4M364.1,216.5h2.5M631.4,216.5h-2.5M364.1,209.04h2.5M631.4,209.04h-2.5M364.1,202.55h2.5M631.4,202.55h-2.5M364.1,196.81h2.5M631.4,196.81h-2.5M364.1,191.66h2.5M631.4,191.66h-2.5M364.1,186.98h2.5M631.4,186.98h-2.5M364.1,182.71h2.5M631.4,182.71h-2.5M364.1,178.77h2.5M631.4,178.77h-2.5M364.1,175.12h4.4M631.4,175.12h-4.4M364.1,166.36h2.5M631.4,166.36h-2.5M364.1,158.9h2.5M631.4,158.9h-2.5M364.1,152.41h2.5M631.4,152.41h-2.5M364.1,146.67h2.5M631.4,146.67h-2.5M364.1,141.52h2.5M631.4,141.52h-2.5M364.1,136.84h2.5M631.4,136.84h-2.5M364.1,132.57h2.5M631.4,132.57h-2.5M364.1,128.63h2.5M631.4,128.63h-2.5M364.1,124.98h4.4M631.4,124.98h-4.4M364.1,116.22h2.5M631.4,116.22h-2.5M364.1,108.76h2.5M631.4,108.76h-2.5M364.1,102.27h2.5M631.4,102.27h-2.5M364.1,96.53h2.5M631.4,96.53h-2.5M364.1,91.38h2.5M631.4,91.38h-2.5M364.1,86.7h2.5M631.4,86.7h-2.5M364.1,82.43h2.5M631.4,82.43h-2.5M364.1,78.49h2.5M631.4,78.49h-2.5M364.1,74.84h4.4M631.4,74.84h-4.4M364.1,66.08h2.5M631.4,66.08h-2.5M364.1,58.62h2.5M631.4,58.62h-2.5M364.1,52.13h2.5M631.4,52.13h-2.5M364.1,46.39h2.5M631.4,46.39h-2.5M364.1,41.24h2.5M631.4,41.24h-2.5M364.1,36.56h2.5M631.4,36.56h-2.5M364.1,32.29h2.5M631.4,32.29h-2.5M364.1,28.35h2.5M631.4,28.35h-2.5M364.1,24.7h4.4M631.4,24.7h-4.4M364.1,15.94h2.5M631.4,15.94h-2.5M364.1,8.48h2.5M631.4,8.48h-2.5" stroke="#111" stroke-width="1.2" fill="none"/>
<text x="382" y="287.2" font-size="9.4" text-anchor="middle" fill="#2a2a2a" stroke="#2a2a2a" stroke-width="0.2">7.389</text>
<text x="428.96" y="287.2" font-size="9.4" text-anchor="middle" fill="#2a2a2a" stroke="#2a2a2a" stroke-width="0.2">20.086</text>
<text x="475.92" y="287.2" font-size="9.4" text-anchor="middle" fill="#2a2a2a" stroke="#2a2a2a" stroke-width="0.2">54.598</text>
<text x="522.88" y="287.2" font-size="9.4" text-anchor="middle" fill="#2a2a2a" stroke="#2a2a2a" stroke-width="0.2">148.413</text>
<text x="569.84" y="287.2" font-size="9.4" text-anchor="middle" fill="#2a2a2a" stroke="#2a2a2a" stroke-width="0.2">403.429</text>
<text x="616.8" y="287.2" font-size="9.4" text-anchor="middle" fill="#2a2a2a" stroke="#2a2a2a" stroke-width="0.2">1096.633</text>
<text x="361.8" y="278.8" font-size="9.4" text-anchor="end" fill="#2a2a2a" stroke="#2a2a2a" stroke-width="0.2">1.000</text>
<text x="361.8" y="228.66" font-size="9.4" text-anchor="end" fill="#2a2a2a" stroke="#2a2a2a" stroke-width="0.2">2.718</text>
<text x="361.8" y="178.52" font-size="9.4" text-anchor="end" fill="#2a2a2a" stroke="#2a2a2a" stroke-width="0.2">7.389</text>
<text x="361.8" y="128.38" font-size="9.4" text-anchor="end" fill="#2a2a2a" stroke="#2a2a2a" stroke-width="0.2">20.086</text>
<text x="361.8" y="78.24" font-size="9.4" text-anchor="end" fill="#2a2a2a" stroke="#2a2a2a" stroke-width="0.2">54.598</text>
<text x="361.8" y="28.1" font-size="9.4" text-anchor="end" fill="#2a2a2a" stroke="#2a2a2a" stroke-width="0.2">148.413</text>
<text transform="translate(327.5,148.6) rotate(-90)" font-size="10.2" text-anchor="middle" fill="#222" stroke="#222" stroke-width="0.2">MSD (Å<tspan dy="-4.5" font-size="6.3">2</tspan><tspan dy="4.5">)</tspan></text>
<text x="497.3" y="306.2" font-size="10.4" text-anchor="middle" fill="#2a2a2a" stroke="#2a2a2a" stroke-width="0.2" textLength="23.6" lengthAdjust="spacingAndGlyphs">t (ps)</text>
<rect x="607" y="7" width="24.9" height="21.8" fill="#000"/>
<text x="619.1" y="22.3" font-size="15" text-anchor="middle" fill="#fff" stroke="#fff" stroke-width="0.2" textLength="16.5" lengthAdjust="spacingAndGlyphs">(b)</text>
<path d="M373.4,25.8H399" stroke="#ff1a1a" stroke-width="1.6"/>
<text x="401.3" y="29.5" font-size="9.5" fill="#2a2a2a" stroke="#2a2a2a" stroke-width="0.2" textLength="87" lengthAdjust="spacingAndGlyphs">0% C Term (0C<tspan dy="3.99" font-size="4.94">B</tspan><tspan dy="-3.99">-0C</tspan><tspan dy="3.99" font-size="4.94">N</tspan><tspan dy="-3.99">)</tspan></text>
<path d="M373.4,43H399" stroke="#1a1aa8" stroke-width="1.6"/>
<text x="401.3" y="46.7" font-size="9.5" fill="#2a2a2a" stroke="#2a2a2a" stroke-width="0.2" textLength="92.4" lengthAdjust="spacingAndGlyphs">25% C Term (3C<tspan dy="3.99" font-size="4.94">B</tspan><tspan dy="-3.99">-0C</tspan><tspan dy="3.99" font-size="4.94">N</tspan><tspan dy="-3.99">)</tspan></text>
<path d="M373.4,59.9H399" stroke="#9a1f1f" stroke-width="1.6"/>
<text x="401.3" y="63.6" font-size="9.5" fill="#2a2a2a" stroke="#2a2a2a" stroke-width="0.2" textLength="92.4" lengthAdjust="spacingAndGlyphs">75% C Term (3C<tspan dy="3.99" font-size="4.94">B</tspan><tspan dy="-3.99">-6C</tspan><tspan dy="3.99" font-size="4.94">N</tspan><tspan dy="-3.99">)</tspan></text>
<path d="M373.4,75.9H399" stroke="#ff9426" stroke-width="1.6"/>
<text x="401.3" y="79.6" font-size="9.5" fill="#2a2a2a" stroke="#2a2a2a" stroke-width="0.2" textLength="98" lengthAdjust="spacingAndGlyphs">100% C Term (6C<tspan dy="3.99" font-size="4.94">B</tspan><tspan dy="-3.99">-6C</tspan><tspan dy="3.99" font-size="4.94">N</tspan><tspan dy="-3.99">)</tspan></text>
<g clip-path="url(#cc)">
<circle cx="300.8" cy="538.7" r="1.2" fill="#ff0000" fill-opacity="0.22"/>
<circle cx="358.7" cy="538.7" r="1.2" fill="#ff0000" fill-opacity="0.22"/>
<circle cx="362" cy="538.7" r="1.2" fill="#ff0000" fill-opacity="0.22"/>
<circle cx="364.2" cy="538.7" r="1.2" fill="#ff0000" fill-opacity="0.22"/>
<circle cx="371.9" cy="538.7" r="1.2" fill="#ff0000" fill-opacity="0.22"/>
<circle cx="375.2" cy="538.7" r="1.2" fill="#ff0000" fill-opacity="0.22"/>
<circle cx="305" cy="538.7" r="1.15" fill="#ff0000" fill-opacity="0.34"/>
<circle cx="306.26" cy="538.7" r="1.15" fill="#ff0000" fill-opacity="0.34"/>
<circle cx="307.97" cy="538.7" r="1.15" fill="#ff0000" fill-opacity="0.34"/>
<circle cx="309.43" cy="538.7" r="1.15" fill="#ff0000" fill-opacity="0.34"/>
<circle cx="311.23" cy="538.7" r="1.15" fill="#ff0000" fill-opacity="0.34"/>
<circle cx="313.07" cy="538.7" r="1.15" fill="#ff0000" fill-opacity="0.34"/>
<circle cx="314.07" cy="538.7" r="1.15" fill="#ff0000" fill-opacity="0.34"/>
<circle cx="314.99" cy="538.7" r="1.15" fill="#ff0000" fill-opacity="0.34"/>
<circle cx="317.15" cy="538.7" r="1.15" fill="#ff0000" fill-opacity="0.34"/>
<circle cx="318.44" cy="538.7" r="1.15" fill="#ff0000" fill-opacity="0.34"/>
<circle cx="319.69" cy="538.7" r="1.15" fill="#ff0000" fill-opacity="0.34"/>
<circle cx="322.08" cy="538.7" r="1.15" fill="#ff0000" fill-opacity="0.34"/>
<circle cx="323.69" cy="538.7" r="1.15" fill="#ff0000" fill-opacity="0.34"/>
<circle cx="325.84" cy="538.7" r="1.15" fill="#ff0000" fill-opacity="0.34"/>
<circle cx="327.46" cy="538.7" r="1.15" fill="#ff0000" fill-opacity="0.34"/>
<circle cx="329.31" cy="538.7" r="1.15" fill="#ff0000" fill-opacity="0.34"/>
<circle cx="330.44" cy="538.7" r="1.15" fill="#ff0000" fill-opacity="0.34"/>
<circle cx="332.29" cy="538.7" r="1.15" fill="#ff0000" fill-opacity="0.34"/>
<circle cx="334.49" cy="538.7" r="1.15" fill="#ff0000" fill-opacity="0.34"/>
<circle cx="336.18" cy="538.7" r="1.15" fill="#ff0000" fill-opacity="0.34"/>
<circle cx="338.19" cy="538.7" r="1.15" fill="#ff0000" fill-opacity="0.34"/>
<circle cx="340.1" cy="538.7" r="1.15" fill="#ff0000" fill-opacity="0.34"/>
<circle cx="341.09" cy="538.7" r="1.15" fill="#ff0000" fill-opacity="0.34"/>
<circle cx="343.13" cy="538.7" r="1.15" fill="#ff0000" fill-opacity="0.34"/>
<circle cx="344.92" cy="538.7" r="1.15" fill="#ff0000" fill-opacity="0.34"/>
<circle cx="346.27" cy="538.7" r="1.15" fill="#ff0000" fill-opacity="0.34"/>
<circle cx="347.22" cy="538.7" r="1.15" fill="#ff0000" fill-opacity="0.34"/>
<circle cx="349.41" cy="538.7" r="1.15" fill="#ff0000" fill-opacity="0.34"/>
<circle cx="351.02" cy="538.7" r="1.15" fill="#ff0000" fill-opacity="0.34"/>
<circle cx="353" cy="538.7" r="1.15" fill="#ff0000" fill-opacity="0.34"/>
<circle cx="355.22" cy="538.7" r="1.15" fill="#ff0000" fill-opacity="0.34"/>
<linearGradient id="g538" gradientUnits="userSpaceOnUse" x1="316.4" y1="0" x2="349" y2="0"><stop offset="0" stop-color="#ff0000" stop-opacity="0.35"/><stop offset="0.25" stop-color="#ff0000" stop-opacity="0.95"/><stop offset="0.75" stop-color="#ff0000" stop-opacity="0.95"/><stop offset="1" stop-color="#ff0000" stop-opacity="0.35"/></linearGradient>
<path d="M316.4,538.7H349" stroke="url(#g538)" stroke-width="1.5"/>
<circle cx="245.7" cy="502.8" r="1.2" fill="#000080" fill-opacity="0.22"/>
<circle cx="250.4" cy="502.8" r="1.2" fill="#000080" fill-opacity="0.22"/>
<circle cx="261.7" cy="502.8" r="1.2" fill="#000080" fill-opacity="0.22"/>
<circle cx="263.6" cy="502.8" r="1.2" fill="#000080" fill-opacity="0.22"/>
<circle cx="271.1" cy="502.8" r="1.2" fill="#000080" fill-opacity="0.22"/>
<circle cx="274" cy="502.8" r="1.2" fill="#000080" fill-opacity="0.22"/>
<circle cx="278.7" cy="502.8" r="1.2" fill="#000080" fill-opacity="0.22"/>
<circle cx="286.2" cy="502.8" r="1.2" fill="#000080" fill-opacity="0.22"/>
<circle cx="289" cy="502.8" r="1.2" fill="#000080" fill-opacity="0.22"/>
<circle cx="290.9" cy="502.8" r="1.2" fill="#000080" fill-opacity="0.22"/>
<circle cx="296.6" cy="502.8" r="1.2" fill="#000080" fill-opacity="0.22"/>
<circle cx="299.4" cy="502.8" r="1.2" fill="#000080" fill-opacity="0.22"/>
<circle cx="303.2" cy="502.8" r="1.2" fill="#000080" fill-opacity="0.22"/>
<circle cx="377.7" cy="502.8" r="1.2" fill="#000080" fill-opacity="0.22"/>
<circle cx="380.5" cy="502.8" r="1.2" fill="#000080" fill-opacity="0.22"/>
<circle cx="383.3" cy="502.8" r="1.2" fill="#000080" fill-opacity="0.22"/>
<circle cx="386.1" cy="502.8" r="1.2" fill="#000080" fill-opacity="0.22"/>
<circle cx="388" cy="502.8" r="1.2" fill="#000080" fill-opacity="0.22"/>
<circle cx="390.8" cy="502.8" r="1.2" fill="#000080" fill-opacity="0.22"/>
<circle cx="392.7" cy="502.8" r="1.2" fill="#000080" fill-opacity="0.22"/>
<circle cx="399.3" cy="502.8" r="1.2" fill="#000080" fill-opacity="0.22"/>
<circle cx="405" cy="502.8" r="1.2" fill="#000080" fill-opacity="0.22"/>
<circle cx="407.8" cy="502.8" r="1.2" fill="#000080" fill-opacity="0.22"/>
<circle cx="409.7" cy="502.8" r="1.2" fill="#000080" fill-opacity="0.22"/>
<circle cx="412.5" cy="502.8" r="1.2" fill="#000080" fill-opacity="0.22"/>
<circle cx="414.4" cy="502.8" r="1.2" fill="#000080" fill-opacity="0.22"/>
<circle cx="417.2" cy="502.8" r="1.2" fill="#000080" fill-opacity="0.22"/>
<circle cx="421.9" cy="502.8" r="1.2" fill="#000080" fill-opacity="0.22"/>
<circle cx="444.5" cy="502.8" r="1.2" fill="#000080" fill-opacity="0.22"/>
<circle cx="453.9" cy="502.8" r="1.2" fill="#000080" fill-opacity="0.22"/>
<circle cx="307.5" cy="502.8" r="1.15" fill="#000080" fill-opacity="0.34"/>
<circle cx="309.78" cy="502.8" r="1.15" fill="#000080" fill-opacity="0.34"/>
<circle cx="311.27" cy="502.8" r="1.15" fill="#000080" fill-opacity="0.34"/>
<circle cx="313.38" cy="502.8" r="1.15" fill="#000080" fill-opacity="0.34"/>
<circle cx="314.94" cy="502.8" r="1.15" fill="#000080" fill-opacity="0.34"/>
<circle cx="317.25" cy="502.8" r="1.15" fill="#000080" fill-opacity="0.34"/>
<circle cx="319.46" cy="502.8" r="1.15" fill="#000080" fill-opacity="0.34"/>
<circle cx="320.51" cy="502.8" r="1.15" fill="#000080" fill-opacity="0.34"/>
<circle cx="321.61" cy="502.8" r="1.15" fill="#000080" fill-opacity="0.34"/>
<circle cx="322.84" cy="502.8" r="1.15" fill="#000080" fill-opacity="0.34"/>
<circle cx="325.19" cy="502.8" r="1.15" fill="#000080" fill-opacity="0.34"/>
<circle cx="326.74" cy="502.8" r="1.15" fill="#000080" fill-opacity="0.34"/>
<circle cx="328.58" cy="502.8" r="1.15" fill="#000080" fill-opacity="0.34"/>
<circle cx="329.93" cy="502.8" r="1.15" fill="#000080" fill-opacity="0.34"/>
<circle cx="331.59" cy="502.8" r="1.15" fill="#000080" fill-opacity="0.34"/>
<circle cx="333.07" cy="502.8" r="1.15" fill="#000080" fill-opacity="0.34"/>
<circle cx="334.5" cy="502.8" r="1.15" fill="#000080" fill-opacity="0.34"/>
<circle cx="336.28" cy="502.8" r="1.15" fill="#000080" fill-opacity="0.34"/>
<circle cx="338.05" cy="502.8" r="1.15" fill="#000080" fill-opacity="0.34"/>
<circle cx="340.31" cy="502.8" r="1.15" fill="#000080" fill-opacity="0.34"/>
<circle cx="342.23" cy="502.8" r="1.15" fill="#000080" fill-opacity="0.34"/>
<circle cx="344.53" cy="502.8" r="1.15" fill="#000080" fill-opacity="0.34"/>
<circle cx="346.71" cy="502.8" r="1.15" fill="#000080" fill-opacity="0.34"/>
<circle cx="349.1" cy="502.8" r="1.15" fill="#000080" fill-opacity="0.34"/>
<circle cx="351" cy="502.8" r="1.15" fill="#000080" fill-opacity="0.34"/>
<circle cx="352.15" cy="502.8" r="1.15" fill="#000080" fill-opacity="0.34"/>
<circle cx="354.34" cy="502.8" r="1.15" fill="#000080" fill-opacity="0.34"/>
<circle cx="356.69" cy="502.8" r="1.15" fill="#000080" fill-opacity="0.34"/>
<circle cx="358.94" cy="502.8" r="1.15" fill="#000080" fill-opacity="0.34"/>
<circle cx="360.7" cy="502.8" r="1.15" fill="#000080" fill-opacity="0.34"/>
<circle cx="362.67" cy="502.8" r="1.15" fill="#000080" fill-opacity="0.34"/>
<circle cx="363.89" cy="502.8" r="1.15" fill="#000080" fill-opacity="0.34"/>
<circle cx="366.03" cy="502.8" r="1.15" fill="#000080" fill-opacity="0.34"/>
<circle cx="367.79" cy="502.8" r="1.15" fill="#000080" fill-opacity="0.34"/>
<circle cx="369.12" cy="502.8" r="1.15" fill="#000080" fill-opacity="0.34"/>
<circle cx="370.12" cy="502.8" r="1.15" fill="#000080" fill-opacity="0.34"/>
<circle cx="372.3" cy="502.8" r="1.15" fill="#000080" fill-opacity="0.34"/>
<circle cx="374.68" cy="502.8" r="1.15" fill="#000080" fill-opacity="0.34"/>
<linearGradient id="g502" gradientUnits="userSpaceOnUse" x1="331.4" y1="0" x2="357.8" y2="0"><stop offset="0" stop-color="#000080" stop-opacity="0.35"/><stop offset="0.25" stop-color="#000080" stop-opacity="0.95"/><stop offset="0.75" stop-color="#000080" stop-opacity="0.95"/><stop offset="1" stop-color="#000080" stop-opacity="0.35"/></linearGradient>
<path d="M331.4,502.8H357.8" stroke="url(#g502)" stroke-width="1.5"/>
<circle cx="257" cy="432.4" r="1.2" fill="#ff8000" fill-opacity="0.22"/>
<circle cx="263.6" cy="432.4" r="1.2" fill="#ff8000" fill-opacity="0.22"/>
<circle cx="271.1" cy="432.4" r="1.2" fill="#ff8000" fill-opacity="0.22"/>
<circle cx="276.8" cy="432.4" r="1.2" fill="#ff8000" fill-opacity="0.22"/>
<circle cx="278.7" cy="432.4" r="1.2" fill="#ff8000" fill-opacity="0.22"/>
<circle cx="283.4" cy="432.4" r="1.2" fill="#ff8000" fill-opacity="0.22"/>
<circle cx="287.1" cy="432.4" r="1.2" fill="#ff8000" fill-opacity="0.22"/>
<circle cx="290" cy="432.4" r="1.2" fill="#ff8000" fill-opacity="0.22"/>
<circle cx="292.8" cy="432.4" r="1.2" fill="#ff8000" fill-opacity="0.22"/>
<circle cx="294.7" cy="432.4" r="1.2" fill="#ff8000" fill-opacity="0.22"/>
<circle cx="374.8" cy="432.4" r="1.2" fill="#ff8000" fill-opacity="0.22"/>
<circle cx="380.5" cy="432.4" r="1.2" fill="#ff8000" fill-opacity="0.22"/>
<circle cx="383.3" cy="432.4" r="1.2" fill="#ff8000" fill-opacity="0.22"/>
<circle cx="388" cy="432.4" r="1.2" fill="#ff8000" fill-opacity="0.22"/>
<circle cx="395.6" cy="432.4" r="1.2" fill="#ff8000" fill-opacity="0.22"/>
<circle cx="398.4" cy="432.4" r="1.2" fill="#ff8000" fill-opacity="0.22"/>
<circle cx="401.2" cy="432.4" r="1.2" fill="#ff8000" fill-opacity="0.22"/>
<circle cx="405.9" cy="432.4" r="1.2" fill="#ff8000" fill-opacity="0.22"/>
<circle cx="419.1" cy="432.4" r="1.2" fill="#ff8000" fill-opacity="0.22"/>
<circle cx="421.9" cy="432.4" r="1.2" fill="#ff8000" fill-opacity="0.22"/>
<circle cx="299.4" cy="432.4" r="1.15" fill="#ff8000" fill-opacity="0.34"/>
<circle cx="301.5" cy="432.4" r="1.15" fill="#ff8000" fill-opacity="0.34"/>
<circle cx="303.02" cy="432.4" r="1.15" fill="#ff8000" fill-opacity="0.34"/>
<circle cx="304.14" cy="432.4" r="1.15" fill="#ff8000" fill-opacity="0.34"/>
<circle cx="305.48" cy="432.4" r="1.15" fill="#ff8000" fill-opacity="0.34"/>
<circle cx="307.54" cy="432.4" r="1.15" fill="#ff8000" fill-opacity="0.34"/>
<circle cx="309.75" cy="432.4" r="1.15" fill="#ff8000" fill-opacity="0.34"/>
<circle cx="310.71" cy="432.4" r="1.15" fill="#ff8000" fill-opacity="0.34"/>
<circle cx="312.53" cy="432.4" r="1.15" fill="#ff8000" fill-opacity="0.34"/>
<circle cx="313.5" cy="432.4" r="1.15" fill="#ff8000" fill-opacity="0.34"/>
<circle cx="315.48" cy="432.4" r="1.15" fill="#ff8000" fill-opacity="0.34"/>
<circle cx="316.88" cy="432.4" r="1.15" fill="#ff8000" fill-opacity="0.34"/>
<circle cx="319.1" cy="432.4" r="1.15" fill="#ff8000" fill-opacity="0.34"/>
<circle cx="321.47" cy="432.4" r="1.15" fill="#ff8000" fill-opacity="0.34"/>
<circle cx="323.13" cy="432.4" r="1.15" fill="#ff8000" fill-opacity="0.34"/>
<circle cx="325.52" cy="432.4" r="1.15" fill="#ff8000" fill-opacity="0.34"/>
<circle cx="326.89" cy="432.4" r="1.15" fill="#ff8000" fill-opacity="0.34"/>
<circle cx="327.9" cy="432.4" r="1.15" fill="#ff8000" fill-opacity="0.34"/>
<circle cx="329.7" cy="432.4" r="1.15" fill="#ff8000" fill-opacity="0.34"/>
<circle cx="330.65" cy="432.4" r="1.15" fill="#ff8000" fill-opacity="0.34"/>
<circle cx="331.85" cy="432.4" r="1.15" fill="#ff8000" fill-opacity="0.34"/>
<circle cx="333.36" cy="432.4" r="1.15" fill="#ff8000" fill-opacity="0.34"/>
<circle cx="335.17" cy="432.4" r="1.15" fill="#ff8000" fill-opacity="0.34"/>
<circle cx="336.31" cy="432.4" r="1.15" fill="#ff8000" fill-opacity="0.34"/>
<circle cx="337.27" cy="432.4" r="1.15" fill="#ff8000" fill-opacity="0.34"/>
<circle cx="339.47" cy="432.4" r="1.15" fill="#ff8000" fill-opacity="0.34"/>
<circle cx="340.84" cy="432.4" r="1.15" fill="#ff8000" fill-opacity="0.34"/>
<circle cx="343.18" cy="432.4" r="1.15" fill="#ff8000" fill-opacity="0.34"/>
<circle cx="345.43" cy="432.4" r="1.15" fill="#ff8000" fill-opacity="0.34"/>
<circle cx="346.89" cy="432.4" r="1.15" fill="#ff8000" fill-opacity="0.34"/>
<circle cx="348.48" cy="432.4" r="1.15" fill="#ff8000" fill-opacity="0.34"/>
<circle cx="350.16" cy="432.4" r="1.15" fill="#ff8000" fill-opacity="0.34"/>
<circle cx="352.03" cy="432.4" r="1.15" fill="#ff8000" fill-opacity="0.34"/>
<circle cx="353.82" cy="432.4" r="1.15" fill="#ff8000" fill-opacity="0.34"/>
<circle cx="355.56" cy="432.4" r="1.15" fill="#ff8000" fill-opacity="0.34"/>
<circle cx="357.39" cy="432.4" r="1.15" fill="#ff8000" fill-opacity="0.34"/>
<circle cx="359.7" cy="432.4" r="1.15" fill="#ff8000" fill-opacity="0.34"/>
<circle cx="361.36" cy="432.4" r="1.15" fill="#ff8000" fill-opacity="0.34"/>
<circle cx="362.91" cy="432.4" r="1.15" fill="#ff8000" fill-opacity="0.34"/>
<circle cx="364.89" cy="432.4" r="1.15" fill="#ff8000" fill-opacity="0.34"/>
<circle cx="366.15" cy="432.4" r="1.15" fill="#ff8000" fill-opacity="0.34"/>
<circle cx="367.5" cy="432.4" r="1.15" fill="#ff8000" fill-opacity="0.34"/>
<circle cx="369.87" cy="432.4" r="1.15" fill="#ff8000" fill-opacity="0.34"/>
<linearGradient id="g432" gradientUnits="userSpaceOnUse" x1="319" y1="0" x2="354" y2="0"><stop offset="0" stop-color="#ff8000" stop-opacity="0.35"/><stop offset="0.25" stop-color="#ff8000" stop-opacity="0.95"/><stop offset="0.75" stop-color="#ff8000" stop-opacity="0.95"/><stop offset="1" stop-color="#ff8000" stop-opacity="0.35"/></linearGradient>
<path d="M319,432.4H354" stroke="url(#g432)" stroke-width="1.5"/>
<circle cx="234.4" cy="403.9" r="1.2" fill="#900010" fill-opacity="0.22"/>
<circle cx="239.1" cy="403.9" r="1.2" fill="#900010" fill-opacity="0.22"/>
<circle cx="258.9" cy="403.9" r="1.2" fill="#900010" fill-opacity="0.22"/>
<circle cx="265.5" cy="403.9" r="1.2" fill="#900010" fill-opacity="0.22"/>
<circle cx="270.2" cy="403.9" r="1.2" fill="#900010" fill-opacity="0.22"/>
<circle cx="274" cy="403.9" r="1.2" fill="#900010" fill-opacity="0.22"/>
<circle cx="278.7" cy="403.9" r="1.2" fill="#900010" fill-opacity="0.22"/>
<circle cx="283.4" cy="403.9" r="1.2" fill="#900010" fill-opacity="0.22"/>
<circle cx="289" cy="403.9" r="1.2" fill="#900010" fill-opacity="0.22"/>
<circle cx="291.9" cy="403.9" r="1.2" fill="#900010" fill-opacity="0.22"/>
<circle cx="295.6" cy="403.9" r="1.2" fill="#900010" fill-opacity="0.22"/>
<circle cx="299.4" cy="403.9" r="1.2" fill="#900010" fill-opacity="0.22"/>
<circle cx="303.2" cy="403.9" r="1.2" fill="#900010" fill-opacity="0.22"/>
<circle cx="306.9" cy="403.9" r="1.2" fill="#900010" fill-opacity="0.22"/>
<circle cx="310.7" cy="403.9" r="1.2" fill="#900010" fill-opacity="0.22"/>
<circle cx="381.4" cy="403.9" r="1.2" fill="#900010" fill-opacity="0.22"/>
<circle cx="386.1" cy="403.9" r="1.2" fill="#900010" fill-opacity="0.22"/>
<circle cx="389" cy="403.9" r="1.2" fill="#900010" fill-opacity="0.22"/>
<circle cx="391.8" cy="403.9" r="1.2" fill="#900010" fill-opacity="0.22"/>
<circle cx="396.5" cy="403.9" r="1.2" fill="#900010" fill-opacity="0.22"/>
<circle cx="399.3" cy="403.9" r="1.2" fill="#900010" fill-opacity="0.22"/>
<circle cx="402.1" cy="403.9" r="1.2" fill="#900010" fill-opacity="0.22"/>
<circle cx="405" cy="403.9" r="1.2" fill="#900010" fill-opacity="0.22"/>
<circle cx="408.7" cy="403.9" r="1.2" fill="#900010" fill-opacity="0.22"/>
<circle cx="413.4" cy="403.9" r="1.2" fill="#900010" fill-opacity="0.22"/>
<circle cx="417.2" cy="403.9" r="1.2" fill="#900010" fill-opacity="0.22"/>
<circle cx="421" cy="403.9" r="1.2" fill="#900010" fill-opacity="0.22"/>
<circle cx="424.7" cy="403.9" r="1.2" fill="#900010" fill-opacity="0.22"/>
<circle cx="427.6" cy="403.9" r="1.2" fill="#900010" fill-opacity="0.22"/>
<circle cx="437.9" cy="403.9" r="1.2" fill="#900010" fill-opacity="0.22"/>
<circle cx="440.8" cy="403.9" r="1.2" fill="#900010" fill-opacity="0.22"/>
<circle cx="453" cy="403.9" r="1.2" fill="#900010" fill-opacity="0.22"/>
<circle cx="316.3" cy="403.9" r="1.15" fill="#900010" fill-opacity="0.34"/>
<circle cx="318.02" cy="403.9" r="1.15" fill="#900010" fill-opacity="0.34"/>
<circle cx="318.94" cy="403.9" r="1.15" fill="#900010" fill-opacity="0.34"/>
<circle cx="320.46" cy="403.9" r="1.15" fill="#900010" fill-opacity="0.34"/>
<circle cx="322.23" cy="403.9" r="1.15" fill="#900010" fill-opacity="0.34"/>
<circle cx="323.16" cy="403.9" r="1.15" fill="#900010" fill-opacity="0.34"/>
<circle cx="324.99" cy="403.9" r="1.15" fill="#900010" fill-opacity="0.34"/>
<circle cx="326.83" cy="403.9" r="1.15" fill="#900010" fill-opacity="0.34"/>
<circle cx="327.82" cy="403.9" r="1.15" fill="#900010" fill-opacity="0.34"/>
<circle cx="329.67" cy="403.9" r="1.15" fill="#900010" fill-opacity="0.34"/>
<circle cx="331.27" cy="403.9" r="1.15" fill="#900010" fill-opacity="0.34"/>
<circle cx="333.18" cy="403.9" r="1.15" fill="#900010" fill-opacity="0.34"/>
<circle cx="334.61" cy="403.9" r="1.15" fill="#900010" fill-opacity="0.34"/>
<circle cx="336.57" cy="403.9" r="1.15" fill="#900010" fill-opacity="0.34"/>
<circle cx="338.58" cy="403.9" r="1.15" fill="#900010" fill-opacity="0.34"/>
<circle cx="339.51" cy="403.9" r="1.15" fill="#900010" fill-opacity="0.34"/>
<circle cx="340.5" cy="403.9" r="1.15" fill="#900010" fill-opacity="0.34"/>
<circle cx="342.42" cy="403.9" r="1.15" fill="#900010" fill-opacity="0.34"/>
<circle cx="344.76" cy="403.9" r="1.15" fill="#900010" fill-opacity="0.34"/>
<circle cx="346.04" cy="403.9" r="1.15" fill="#900010" fill-opacity="0.34"/>
<circle cx="347.62" cy="403.9" r="1.15" fill="#900010" fill-opacity="0.34"/>
<circle cx="349.41" cy="403.9" r="1.15" fill="#900010" fill-opacity="0.34"/>
<circle cx="350.79" cy="403.9" r="1.15" fill="#900010" fill-opacity="0.34"/>
<circle cx="352.24" cy="403.9" r="1.15" fill="#900010" fill-opacity="0.34"/>
<circle cx="353.61" cy="403.9" r="1.15" fill="#900010" fill-opacity="0.34"/>
<circle cx="355.06" cy="403.9" r="1.15" fill="#900010" fill-opacity="0.34"/>
<circle cx="356.86" cy="403.9" r="1.15" fill="#900010" fill-opacity="0.34"/>
<circle cx="358.21" cy="403.9" r="1.15" fill="#900010" fill-opacity="0.34"/>
<circle cx="359.67" cy="403.9" r="1.15" fill="#900010" fill-opacity="0.34"/>
<circle cx="361.73" cy="403.9" r="1.15" fill="#900010" fill-opacity="0.34"/>
<circle cx="362.67" cy="403.9" r="1.15" fill="#900010" fill-opacity="0.34"/>
<circle cx="364.42" cy="403.9" r="1.15" fill="#900010" fill-opacity="0.34"/>
<circle cx="366.43" cy="403.9" r="1.15" fill="#900010" fill-opacity="0.34"/>
<circle cx="367.79" cy="403.9" r="1.15" fill="#900010" fill-opacity="0.34"/>
<circle cx="369.03" cy="403.9" r="1.15" fill="#900010" fill-opacity="0.34"/>
<circle cx="371.13" cy="403.9" r="1.15" fill="#900010" fill-opacity="0.34"/>
<circle cx="372.39" cy="403.9" r="1.15" fill="#900010" fill-opacity="0.34"/>
<circle cx="373.57" cy="403.9" r="1.15" fill="#900010" fill-opacity="0.34"/>
<circle cx="375.12" cy="403.9" r="1.15" fill="#900010" fill-opacity="0.34"/>
<circle cx="377.07" cy="403.9" r="1.15" fill="#900010" fill-opacity="0.34"/>
<linearGradient id="g403" gradientUnits="userSpaceOnUse" x1="328" y1="0" x2="356" y2="0"><stop offset="0" stop-color="#900010" stop-opacity="0.35"/><stop offset="0.25" stop-color="#900010" stop-opacity="0.95"/><stop offset="0.75" stop-color="#900010" stop-opacity="0.95"/><stop offset="1" stop-color="#900010" stop-opacity="0.35"/></linearGradient>
<path d="M328,403.9H356" stroke="url(#g403)" stroke-width="1.5"/>
<path d="M363.1,348.6L325.2,597.9" stroke="#000" stroke-width="1.5" stroke-dasharray="3.2,2.2"/>
<path d="M351,400.9l7.8,7.8M351,408.7l7.8,-7.8" stroke="#111" stroke-width="1.15"/>
<path d="M343,429.3l7.8,7.8M343,437.1l7.8,-7.8" stroke="#111" stroke-width="1.15"/>
<path d="M341.2,499.6l7.8,7.8M341.2,507.4l7.8,-7.8" stroke="#111" stroke-width="1.15"/>
<path d="M329.9,536l7.8,7.8M329.9,543.8l7.8,-7.8" stroke="#111" stroke-width="1.15"/>
</g>
<rect x="210.8" y="332.5" width="265.4" height="265.70000000000005" fill="none" stroke="#111" stroke-width="1.35"/>
<path d="M229.76,598.2v-2.0M229.76,332.5v2.0M248.71,598.2v-3.6M248.71,332.5v3.6M267.67,598.2v-2.0M267.67,332.5v2.0M286.63,598.2v-3.6M286.63,332.5v3.6M305.59,598.2v-2.0M305.59,332.5v2.0M324.54,598.2v-3.6M324.54,332.5v3.6M343.5,598.2v-2.0M343.5,332.5v2.0M362.46,598.2v-3.6M362.46,332.5v3.6M381.41,598.2v-2.0M381.41,332.5v2.0M400.37,598.2v-3.6M400.37,332.5v3.6M419.33,598.2v-2.0M419.33,332.5v2.0M438.29,598.2v-3.6M438.29,332.5v3.6M457.24,598.2v-2.0M457.24,332.5v2.0M210.8,580.02h2.0M476.2,580.02h-2.0M210.8,559.4h3.6M476.2,559.4h-3.6M210.8,538.78h2.0M476.2,538.78h-2.0M210.8,518.16h3.6M476.2,518.16h-3.6M210.8,497.54h2.0M476.2,497.54h-2.0M210.8,476.92h3.6M476.2,476.92h-3.6M210.8,456.3h2.0M476.2,456.3h-2.0M210.8,435.68h3.6M476.2,435.68h-3.6M210.8,415.06h2.0M476.2,415.06h-2.0M210.8,394.44h3.6M476.2,394.44h-3.6M210.8,373.82h2.0M476.2,373.82h-2.0M210.8,353.2h3.6M476.2,353.2h-3.6M210.8,332.58h2.0M476.2,332.58h-2.0" stroke="#111" stroke-width="1.2" fill="none"/>
<text x="210.8" y="609.8" font-size="8.7" text-anchor="middle" fill="#2a2a2a" stroke="#2a2a2a" stroke-width="0.2">-0.6</text>
<text x="248.71" y="609.8" font-size="8.7" text-anchor="middle" fill="#2a2a2a" stroke="#2a2a2a" stroke-width="0.2">-0.4</text>
<text x="286.63" y="609.8" font-size="8.7" text-anchor="middle" fill="#2a2a2a" stroke="#2a2a2a" stroke-width="0.2">-0.2</text>
<text x="324.54" y="609.8" font-size="8.7" text-anchor="middle" fill="#2a2a2a" stroke="#2a2a2a" stroke-width="0.2">0.0</text>
<text x="362.46" y="609.8" font-size="8.7" text-anchor="middle" fill="#2a2a2a" stroke="#2a2a2a" stroke-width="0.2">0.2</text>
<text x="400.37" y="609.8" font-size="8.7" text-anchor="middle" fill="#2a2a2a" stroke="#2a2a2a" stroke-width="0.2">0.4</text>
<text x="438.29" y="609.8" font-size="8.7" text-anchor="middle" fill="#2a2a2a" stroke="#2a2a2a" stroke-width="0.2">0.6</text>
<text x="476.2" y="609.8" font-size="8.7" text-anchor="middle" fill="#2a2a2a" stroke="#2a2a2a" stroke-width="0.2">0.8</text>
<text x="208.3" y="562.5" font-size="8.7" text-anchor="end" fill="#2a2a2a" stroke="#2a2a2a" stroke-width="0.2">20</text>
<text x="208.3" y="521.26" font-size="8.7" text-anchor="end" fill="#2a2a2a" stroke="#2a2a2a" stroke-width="0.2">40</text>
<text x="208.3" y="480.02" font-size="8.7" text-anchor="end" fill="#2a2a2a" stroke="#2a2a2a" stroke-width="0.2">60</text>
<text x="208.3" y="438.78" font-size="8.7" text-anchor="end" fill="#2a2a2a" stroke="#2a2a2a" stroke-width="0.2">80</text>
<text x="208.3" y="397.54" font-size="8.7" text-anchor="end" fill="#2a2a2a" stroke="#2a2a2a" stroke-width="0.2">100</text>
<text x="208.3" y="356.3" font-size="8.7" text-anchor="end" fill="#2a2a2a" stroke="#2a2a2a" stroke-width="0.2">120</text>
<text transform="translate(184,469.3) rotate(-90)" font-size="10.2" text-anchor="middle" fill="#222" stroke="#222" stroke-width="0.2" textLength="105" lengthAdjust="spacingAndGlyphs">Water Flux (ns<tspan dy="-5.5" font-size="6.3">-1</tspan><tspan dy="5.5"> pore</tspan><tspan dy="-5.5" font-size="6.3">-1</tspan><tspan dy="5.5">)</tspan></text>
<text x="343.5" y="626.1" font-size="10.2" text-anchor="middle" fill="#2a2a2a" stroke="#2a2a2a" stroke-width="0.2" textLength="82.6" lengthAdjust="spacingAndGlyphs">Derivative of MSD</text>
<rect x="452.3" y="331.3" width="25" height="22.3" fill="#000"/>
<text x="464.6" y="346.8" font-size="14.5" text-anchor="middle" fill="#fff" stroke="#fff" stroke-width="0.2" textLength="14.8" lengthAdjust="spacingAndGlyphs">(c)</text>
<text x="389.2" y="546.8" font-size="9.2" fill="#ff1010" stroke="#ff1010" stroke-width="0.2" textLength="74.7" lengthAdjust="spacingAndGlyphs">0% C Term (0C<tspan dy="3.86" font-size="4.78">B</tspan><tspan dy="-3.86">-0C</tspan><tspan dy="3.86" font-size="4.78">N</tspan><tspan dy="-3.86">)</tspan></text>
<text x="389.2" y="561.4" font-size="9.2" fill="#1a1a9a" stroke="#1a1a9a" stroke-width="0.2" textLength="80" lengthAdjust="spacingAndGlyphs">25% C Term (3C<tspan dy="3.86" font-size="4.78">B</tspan><tspan dy="-3.86">-0C</tspan><tspan dy="3.86" font-size="4.78">N</tspan><tspan dy="-3.86">)</tspan></text>
<text x="389.2" y="575.1" font-size="9.2" fill="#8b1a1a" stroke="#8b1a1a" stroke-width="0.2" textLength="79.8" lengthAdjust="spacingAndGlyphs">75% C Term (3C<tspan dy="3.86" font-size="4.78">B</tspan><tspan dy="-3.86">-6C</tspan><tspan dy="3.86" font-size="4.78">N</tspan><tspan dy="-3.86">)</tspan></text>
<text x="389.2" y="590" font-size="9.2" fill="#ff8a10" stroke="#ff8a10" stroke-width="0.2" textLength="83.8" lengthAdjust="spacingAndGlyphs">100% C Term (6C<tspan dy="3.86" font-size="4.78">B</tspan><tspan dy="-3.86">-6C</tspan><tspan dy="3.86" font-size="4.78">N</tspan><tspan dy="-3.86">)</tspan></text></svg>
</body></html>
